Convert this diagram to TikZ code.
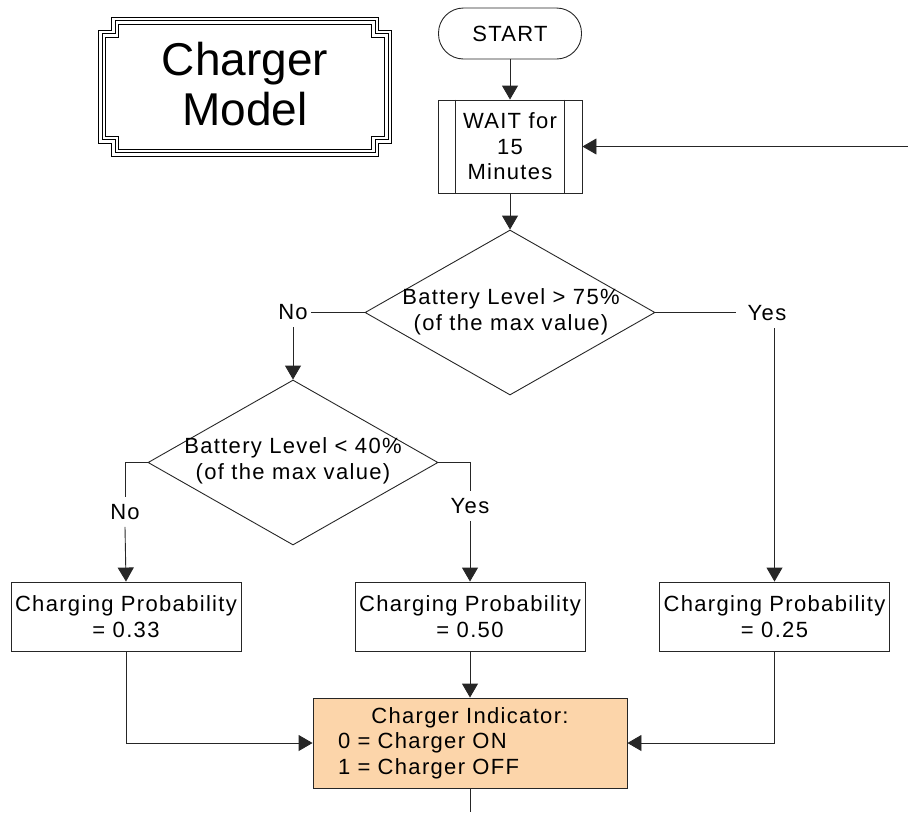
\documentclass[tikz,border=0pt]{standalone}
\usepackage{fontspec}
\setmainfont{Liberation Sans}
\newfontfamily\diafont[LetterSpace=6]{Liberation Sans}
\usetikzlibrary{arrows.meta,shapes.geometric,calc}
\definecolor{peach}{RGB}{252,213,170}
\begin{document}
\begin{tikzpicture}[x=1pt,y=-1pt,
  font=\diafont\fontsize{22}{25.5}\selectfont,
  line/.style={draw=black!85, line width=0.9pt},
  box/.style={line, minimum width=230pt, minimum height=69pt, inner sep=0pt, align=center},
  conn/.style={draw=black!85, line width=0.9pt},
  arr/.style={conn, -{Triangle[length=14pt,width=16pt]}},
  lbl/.style={inner xsep=3pt, inner ysep=7pt},
]
\useasboundingbox (0,0) rectangle (908,812);

% title frame
\def\framepath{(115,20.5) -- (375,20.5) -- (375,33.5) -- (388,33.5) -- (388,139.5) -- (375,139.5) -- (375,152.5) -- (115,152.5) -- (115,139.5) -- (102,139.5) -- (102,33.5) -- (115,33.5) -- cycle}
\draw[line width=8pt, black, line join=miter] \framepath;
\draw[line width=6pt, white, line join=miter] \framepath;
\draw[line width=0.9pt, black, line join=miter] \framepath;
\node[font=\rmfamily\fontsize{46}{50}\selectfont, align=center, inner sep=0pt] (title) at (245,84.5) {Charger\\Model};

% start and wait
\node[line, rounded corners=25pt, minimum width=143pt, minimum height=51pt, inner sep=0pt] (start) at (510,33.5) {START};
\node[line, minimum width=144pt, minimum height=93pt, inner sep=0pt, align=center] (wait) at (510,146.5) {WAIT for\\15\\Minutes};
\draw[line] ([xshift=18pt]wait.north west) -- ([xshift=18pt]wait.south west);
\draw[line] ([xshift=-18pt]wait.north east) -- ([xshift=-18pt]wait.south east);

% diamonds
\node[line, diamond, minimum width=290pt, minimum height=165pt, inner sep=0pt] (d1) at (510,312.5) {};
\node[align=center, inner sep=0pt] (t1) at (511,312) {Battery Level > 75\%\\(of the max value)};
\node[line, diamond, minimum width=290pt, minimum height=165pt, inner sep=0pt] (d2) at (293,462.5) {};
\node[align=center, inner sep=0pt] (t2) at (293,461) {Battery Level < 40\%\\(of the max value)};

% labels
\node[lbl] (no1) at (293,312.5) {No};
\node[lbl, inner xsep=12pt] (yes1) at (767,313.5) {Yes};
\node[lbl] (no2) at (125,512) {No};
\node[lbl] (yes2) at (470,506) {Yes};

% probability boxes
\node[box] (b1) at (126,616.5) {Charging Probability\\= 0.33};
\node[box] (b2) at (470,616.5) {Charging Probability\\= 0.50};
\node[box] (b3) at (774.5,616.5) {Charging Probability\\= 0.25};

% indicator
\node[line, fill=peach, minimum width=314pt, minimum height=90pt, text width=314pt, inner sep=0pt, align=left] (ind) at (470,743)
  {\makebox[314pt][c]{Charger Indicator:}\\\hspace*{25pt}0 = Charger ON\\\hspace*{25pt}1 = Charger OFF};

\coordinate (rin) at (908,146.5);
\coordinate (bot) at (470,812);

% connectors
\draw[arr] (start.south) -- (wait.north);
\draw[arr] (rin) -- (wait.east);
\draw[arr] (wait.south) -- (d1.north);
\draw[conn] (d1.west) -- (no1.east);
\draw[arr] (no1.south) -- (d2.north);
\draw[conn] (d1.east) -- (d1.east -| yes1.west);
\draw[arr] (yes1.south -| b3.north) -- (b3.north);
\draw[conn] (d2.west) -| (no2.north);
\draw[arr] (no2.south) -- (b1.north);
\draw[conn] (d2.east) -| (yes2.north);
\draw[arr] (yes2.south) -- (b2.north);
\draw[arr] (b1.south) |- (ind.west);
\draw[arr] (b2.south) -- (ind.north);
\draw[arr] (b3.south) |- (ind.east);
\draw[conn] (ind.south) -- (bot);
\end{tikzpicture}
\end{document}
